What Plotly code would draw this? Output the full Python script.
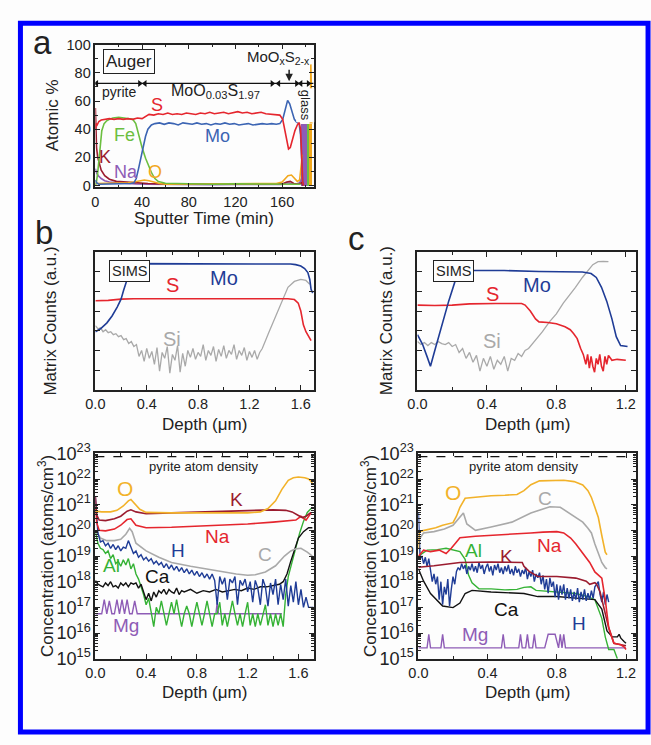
import numpy as np
import plotly.graph_objects as go

W, H = 651, 745
FONT = "Liberation Sans, Arial, sans-serif"
KX, KY = 1.015, 1.04   # measured-pixel -> page-pixel scale

# ---------------- Panel a: Auger (sputter time in min, atomic %) ----------------
S_a_t = [0, 0.6, 1.5, 3, 5, 8, 12, 16, 20, 24, 28, 32, 36, 40, 43, 46, 50, 54, 58, 62, 66, 70, 74, 78, 82, 86, 90, 94, 98, 102,
         106, 110, 114, 118, 122, 126, 130, 134, 138, 142, 146, 150, 154, 158, 160.5, 162.5, 164, 165.5, 167, 169, 171, 173,
         174.5, 175.8, 176.8, 177.6, 178.5]
S_a = [40, 44, 43, 45.5, 46.5, 47, 47.5, 47, 47.5, 47, 47.5, 47, 48, 47.5, 49, 50.5, 50, 51, 50.5, 51.5, 50.5, 51, 50.5, 51.5,
       51, 50.5, 51.5, 51, 52, 51, 51.5, 52, 51, 52, 52.5, 51.5, 52, 51, 51.5, 52, 51, 50.5, 50.5, 50, 47, 38, 30, 26, 27, 33,
       39, 43, 45, 40, 18, 3, 0]
Mo_a_t = [0, 1, 3, 6, 10, 15, 20, 25, 30, 33, 35, 37, 39, 41, 43, 45, 48, 51, 55, 59, 63, 67, 71, 75, 79, 83, 87, 91, 95, 99,
          103, 107, 111, 115, 119, 123, 127, 131, 135, 139, 143, 147, 151, 155, 158, 160.5, 162.5, 164.7, 166.5, 168.5,
          170.5, 172.5, 174.5, 175.8, 176.8, 177.6, 178.5]
Mo_a = [4, 2, 1, 1, 1, 1, 1, 1, 1.5, 2, 5, 12, 20, 28, 35, 40, 43, 44, 44.5, 43.5, 44.5, 44, 43, 44.5, 44, 43.5, 44.5, 43.5,
        44, 43, 44, 43.5, 44.5, 43.5, 44, 43, 43.5, 44, 43, 43.5, 44, 43.5, 44, 43.5, 44, 47, 54, 60.5, 58, 52, 47, 45, 44.5,
        36, 15, 3, 0]
Fe_a_t = [0, 1, 2, 2.8, 4, 5.5, 7.5, 9.7, 12, 15, 20, 25, 30, 32, 34.6, 37.4, 40, 43, 46, 48.5, 51, 54, 60, 80, 100, 120,
          140, 160, 170, 176]
Fe_a = [0, 3, 9, 17, 30, 39, 44, 46, 47, 48, 48.5, 48, 47.5, 47, 44, 35, 27, 19.4, 13, 8.4, 5, 2.9, 1.7, 1.2, 1, 1.2, 1,
        1.2, 1, 1]
K_a_t = [0, 0.4, 1, 2, 3.5, 5, 8, 12, 18, 25, 35, 45, 60, 80, 100, 120, 140, 160, 164, 167, 170, 174, 176.5, 178]
K_a = [55, 38, 27, 20, 15, 11, 7, 4.5, 3, 2.5, 2, 1.5, 1.2, 1, 1.2, 1, 1.2, 1.2, 2.5, 3, 1.5, 1, 2, 0]
Na_a_t = [0, 1, 2.5, 5, 8, 12, 18, 25, 35, 45, 60, 80, 100, 120, 140, 160, 164, 168, 172, 175, 176.5]
Na_a = [12, 9, 7, 5, 3.5, 2.5, 2, 1.5, 1.2, 1, 0.8, 0.8, 0.6, 0.8, 0.6, 0.8, 2, 1.5, 1, 2, 5]
O_a_t = [0, 10, 20, 28, 33, 38, 42, 46, 50, 55, 60, 80, 100, 120, 140, 155, 160, 162.5, 165, 168, 170.5, 173, 175, 176.3, 177.3]
O_a = [1.5, 1.5, 1.5, 2, 2.5, 3.5, 4, 3.5, 2.5, 1.5, 1, 1, 1.2, 1, 1.2, 1.5, 2.5, 5, 7, 7.5, 5.5, 3, 4, 15, 22]
glass_t = [179.4, 182.8, 184.6]
glass_w = [5.4, 1.2, 2.2]
glass_h = [44, 44, 44]
glass_spike_t = [184.2, 184.6, 185.0, 185.4]
glass_spike_v = [44, 86, 70, 44]
region_left = [1, 42.5, 157, 176]
region_right = [38, 151.5, 172.5, 182.5]
region_level = 72.5

# ---------------- Panel b (top): SIMS matrix counts, sample b ----------------
Mo_b_x = [0.0, 0.04, 0.09, 0.13, 0.17, 0.2, 0.22, 0.24, 0.26, 0.28, 0.3, 0.6, 0.9, 1.2, 1.45, 1.52, 1.56, 1.6, 1.63, 1.655,
          1.67, 1.68, 1.69, 1.7]
Mo_b = [2.95, 3.1, 3.4, 3.75, 4.2, 4.6, 5.05, 5.45, 5.9, 6.25, 6.4, 6.4, 6.4, 6.4, 6.4, 6.38, 6.35, 6.28, 6.15, 5.95, 5.6,
        5.1, 4.95, 5.0]
S_b_x = [0.0, 0.1, 0.2, 0.3, 0.6, 1.0, 1.3, 1.5, 1.55, 1.58, 1.6, 1.62, 1.64, 1.66, 1.68]
S_b = [4.52, 4.54, 4.6, 4.62, 4.62, 4.62, 4.62, 4.62, 4.58, 4.4, 4.0, 3.3, 2.95, 2.7, 2.5]
Si_b_noisy = [3.25, 3.1, 3.15, 2.95, 3.05, 2.9, 2.95, 2.8, 2.85, 2.7,
              2.75, 2.55, 2.6, 2.35, 2.45, 2.2, 2.3, 1.7, 2.0, 1.45,
              2.1, 1.6, 1.95, 1.3, 2.15, 0.95, 1.9, 1.6, 2.2, 0.85,
              1.8, 1.5, 2.25, 0.9, 1.85, 1.2, 2.0, 1.65, 2.1, 1.55,
              1.9, 1.7, 2.3, 1.5, 2.0, 1.75, 2.2, 1.45, 2.05, 1.7,
              2.25, 1.6, 2.0, 1.8, 2.3, 1.55, 2.0, 1.75, 2.15, 1.5,
              1.95, 1.65, 2.0, 1.55, 1.9]
Si_b_tail_x = [1.30, 1.35, 1.40, 1.45, 1.50, 1.55, 1.60, 1.64, 1.67]
Si_b_tail = [2.1, 2.9, 3.7, 4.5, 5.2, 5.5, 5.6, 5.55, 5.35]

# ---------------- Panel c (top): SIMS matrix counts, sample c ----------------
Mo_c_x = [0.0, 0.03, 0.055, 0.075, 0.1, 0.14, 0.18, 0.22, 0.25, 0.3, 0.5, 0.7, 0.85, 0.95, 1.0, 1.03, 1.06, 1.09, 1.12,
          1.145, 1.17, 1.2, 1.21]
Mo_c = [2.8, 2.3, 1.7, 1.2, 2.0, 3.3, 4.5, 5.6, 6.05, 6.05, 6.05, 6.0, 6.0, 5.98, 5.9, 5.7, 5.2, 4.5, 3.6, 2.7, 2.25, 2.2, 2.2]
S_c_x = [0.0, 0.1, 0.2, 0.3, 0.45, 0.6, 0.62, 0.65, 0.68, 0.7, 0.75, 0.8, 0.85, 0.88, 0.9, 0.92, 0.94, 0.955, 0.97, 0.98,
         0.99, 1.0, 1.01, 1.02, 1.03, 1.04, 1.05, 1.06, 1.07, 1.08, 1.09, 1.1, 1.12, 1.15, 1.2]
S_c = [4.3, 4.28, 4.3, 4.36, 4.38, 4.38, 4.3, 4.0, 3.6, 3.45, 3.42, 3.35, 3.2, 3.05, 2.85, 2.6, 2.1, 1.8, 1.3, 1.8, 1.1,
       1.7, 1.2, 0.9, 1.6, 1.3, 1.8, 1.2, 0.95, 1.7, 1.3, 1.75, 1.5, 1.55, 1.5]
Si_c_noisy = [2.45, 2.3, 2.4, 2.25, 2.4, 2.3, 2.45, 2.35, 2.3, 2.4,
              2.2, 2.3, 1.9, 2.1, 1.6, 1.9, 1.4, 1.75, 0.95, 1.6,
              1.2, 1.7, 1.05, 1.5, 1.3, 1.7, 0.95, 1.6, 1.5, 1.85,
              1.7, 2.0]
Si_c_tail_x = [0.64, 0.66, 0.69, 0.72, 0.76, 0.80, 0.84, 0.88, 0.91, 0.95, 0.985, 1.01, 1.04, 1.07, 1.1]
Si_c_tail = [2.1, 2.3, 2.6, 2.95, 3.45, 3.85, 4.4, 4.85, 5.2, 5.7, 6.1, 6.35, 6.5, 6.52, 6.5]

# ---------------- Panel b (bottom): concentrations, log10(atoms/cm3) ----------------
pyrite_density = 7.5e22
O_b_x = [0.0, 0.05, 0.12, 0.17, 0.22, 0.26, 0.28, 0.31, 0.35, 0.4, 0.6, 0.9, 1.2, 1.3, 1.36, 1.42, 1.47, 1.52, 1.56, 1.6,
         1.65, 1.68, 1.71]
O_b = [20.75, 20.72, 20.72, 20.78, 20.95, 21.15, 21.2, 21.05, 20.82, 20.7, 20.68, 20.68, 20.68, 20.72, 20.85, 21.15, 21.6,
       21.95, 22.05, 22.08, 22.05, 22.0, 21.85]
K_b_x = [0.0, 0.01, 0.03, 0.08, 0.15, 0.2, 0.25, 0.28, 0.32, 0.4, 0.6, 0.9, 1.2, 1.4, 1.5, 1.55, 1.6, 1.63, 1.66, 1.7]
K_b = [21.3, 20.6, 20.4, 20.38, 20.45, 20.55, 20.75, 20.8, 20.72, 20.65, 20.68, 20.72, 20.78, 20.8, 20.78, 20.72, 20.58,
       20.5, 20.55, 20.7]
Na_b_x = [0.0, 0.01, 0.03, 0.08, 0.15, 0.2, 0.25, 0.28, 0.32, 0.4, 0.6, 0.9, 1.2, 1.4, 1.5, 1.55, 1.58, 1.62, 1.66, 1.7]
Na_b = [20.9, 20.3, 20.0, 19.98, 20.05, 20.2, 20.42, 20.45, 20.2, 20.1, 20.12, 20.18, 20.25, 20.32, 20.35, 20.38, 20.4,
        20.55, 20.4, 20.68]
C_b_x = [0.0, 0.04, 0.09, 0.15, 0.2, 0.24, 0.27, 0.29, 0.32, 0.36, 0.4, 0.5, 0.6, 0.75, 0.86, 1.0, 1.11, 1.2, 1.26, 1.34,
         1.42, 1.49, 1.54, 1.58, 1.62, 1.67, 1.71]
C_b = [20.0, 19.7, 19.6, 19.6, 19.65, 19.85, 20.08, 19.95, 19.5, 19.35, 19.2, 18.95, 18.75, 18.6, 18.5, 18.4, 18.3, 18.25,
       18.27, 18.38, 18.62, 19.0, 19.2, 19.28, 19.3, 19.15, 19.0]
H_b = [21.3, 19.9, 19.55, 19.6, 19.4, 19.5, 19.3, 19.45, 19.25, 19.4,
       19.2, 19.35, 19.3, 19.6, 19.35, 19.1, 19.2, 18.95, 19.05, 18.85,
       18.95, 18.8, 18.9, 18.7, 18.8, 18.65, 18.75, 18.55, 18.7, 18.5,
       18.65, 18.45, 18.6, 18.4, 18.55, 18.35, 18.5, 18.3, 18.45, 18.25,
       18.4, 18.2, 18.35, 18.15, 18.3, 18.1, 18.3, 18.05, 17.1, 18.2,
       17.9, 18.15, 17.3, 18.1, 17.95, 18.2, 17.1, 18.05, 17.85, 18.1,
       17.6, 18.0, 17.2, 18.05, 17.75, 17.1, 18.1, 17.8, 17.05, 17.95,
       17.5, 18.1, 17.1, 17.9, 17.3, 18.1, 17.05, 17.85, 17.2, 18.0,
       17.1, 17.7, 17.0, 17.4, 17.0, 17.0, 17.0]
Al_b_noisy = [19.95, 19.5, 19.3, 19.25, 19.1, 19.2, 18.9, 19.05, 18.7, 18.8,
              18.6, 18.85, 18.65, 18.9, 18.5, 18.7, 18.3, 18.1, 17.8, 17.5,
              17.1, 17.35, 16.8, 16.25, 17.0, 16.75, 17.25, 16.75, 16.3, 16.75,
              17.2, 16.75, 17.3, 16.75, 16.25, 16.75, 17.05, 16.75, 16.25, 16.75,
              17.2, 16.75, 16.3, 16.75, 17.25, 16.75, 16.25, 16.75, 16.75, 17.2,
              16.3, 16.75, 16.25, 16.75, 17.25, 16.75, 16.3, 16.75, 16.25, 16.75,
              17.2, 16.3, 16.75, 16.25, 16.75, 16.3, 16.75, 17.1, 16.3, 16.75,
              16.25, 16.75, 16.3, 16.75, 16.25]
Al_b_tail_x = [1.50, 1.52, 1.55, 1.58, 1.61, 1.64, 1.67, 1.70]
Al_b_tail = [17.5, 18.2, 18.8, 19.3, 19.9, 20.35, 20.7, 20.85]
Ca_b_x = [0.0, 0.02, 0.04, 0.06, 0.08, 0.1, 0.12, 0.14, 0.16, 0.18, 0.2, 0.22, 0.24, 0.26, 0.28, 0.3, 0.32, 0.34, 0.36,
          0.38, 0.4, 0.42, 0.44, 0.46, 0.48, 0.5, 0.52, 0.54, 0.56, 0.58, 0.6, 0.62, 0.64, 0.66, 0.68, 0.7, 0.75, 0.8,
          0.85, 0.9, 0.95, 1.0, 1.05, 1.1, 1.15, 1.2, 1.25, 1.3, 1.35, 1.4, 1.45, 1.48, 1.51, 1.54, 1.57, 1.6, 1.64,
          1.68, 1.71]
Ca_b = [18.05, 17.9, 17.85, 17.8, 17.95, 17.85, 18.0, 17.8, 17.85, 17.75, 17.95, 17.85, 17.95, 17.8, 17.95, 17.9, 17.95,
        17.75, 17.9, 17.6, 17.3, 17.55, 17.25, 17.6, 17.4, 17.65, 17.55, 17.7, 17.5, 17.7, 17.6, 17.55, 17.75, 17.5, 17.65,
        17.6, 17.7, 17.55, 17.65, 17.6, 17.7, 17.6, 17.65, 17.7, 17.65, 17.75, 17.7, 17.8, 17.8, 17.85, 17.9, 18.0, 18.3,
        18.8, 19.3, 19.7, 19.95, 20.1, 20.1]
Mg_b_x = [0.0, 0.05, 0.07, 0.09, 0.11, 0.13, 0.15, 0.17, 0.19, 0.21, 0.23, 0.25, 0.27, 0.29, 0.31, 0.33, 0.35, 0.95, 0.96,
          0.97, 1.47]
Mg_b = [16.75, 16.75, 17.3, 16.75, 17.25, 16.75, 16.75, 17.3, 16.75, 17.3, 16.75, 17.3, 16.75, 16.75, 17.25, 16.75, 16.75,
        16.75, 17.2, 16.75, 16.75]

# ---------------- Panel c (bottom): concentrations, log10(atoms/cm3) ----------------
O_c_x = [0.0, 0.005, 0.02, 0.05, 0.1, 0.14, 0.2, 0.22, 0.24, 0.27, 0.33, 0.42, 0.5, 0.57, 0.61, 0.65, 0.7, 0.76, 0.84, 0.9,
         0.95, 0.98, 1.0, 1.02, 1.04, 1.06, 1.08, 1.09]
O_c = [19.3, 19.95, 19.98, 20.02, 20.1, 20.2, 20.3, 20.55, 20.9, 21.25, 21.3, 21.35, 21.37, 21.4, 21.55, 21.78, 21.93,
       21.95, 21.95, 21.9, 21.77, 21.55, 21.28, 20.9, 20.5, 19.8, 19.15, 19.05]
C_c_x = [0.0, 0.03, 0.09, 0.15, 0.2, 0.24, 0.26, 0.28, 0.33, 0.42, 0.54, 0.65, 0.72, 0.76, 0.82, 0.87, 0.91, 0.95, 0.98,
         1.0, 1.02, 1.04, 1.06, 1.08, 1.09]
C_c = [19.6, 19.9, 19.95, 20.05, 20.2, 20.5, 20.68, 20.25, 20.0, 20.13, 20.32, 20.68, 20.85, 20.92, 20.9, 20.68, 20.5,
       20.32, 20.08, 19.9, 19.47, 19.1, 18.75, 18.55, 18.5]
Na_c_x = [0.0, 0.03, 0.07, 0.12, 0.16, 0.19, 0.22, 0.24, 0.33, 0.52, 0.65, 0.72, 0.8, 0.84, 0.88, 0.91, 0.95, 0.99, 1.02,
          1.05, 1.06, 1.08, 1.1, 1.13, 1.17, 1.19, 1.2]
Na_c = [18.99, 19.23, 19.17, 19.23, 19.1, 19.3, 19.55, 19.71, 19.77, 19.83, 19.9, 19.93, 19.95, 19.9, 19.7, 19.47, 19.1,
        18.75, 18.38, 18.2, 18.14, 17.3, 16.2, 15.6, 15.54, 15.45, 15.36]
K_c_x = [0.0, 0.09, 0.24, 0.42, 0.6, 0.61, 0.64, 0.69, 0.8, 0.91, 0.97, 0.99, 1.02, 1.03, 1.05, 1.07, 1.1, 1.13, 1.17, 1.2]
K_c = [18.56, 18.62, 18.75, 18.77, 18.75, 18.6, 18.4, 18.2, 18.2, 18.14, 18.02, 17.9, 17.96, 17.9, 17.6, 17.05, 16.2, 15.6,
       15.55, 15.5]
Al_c_x = [0.0, 0.05, 0.11, 0.16, 0.24, 0.27, 0.29, 0.31, 0.35, 0.42, 0.5, 0.57, 0.61, 0.65, 0.68, 0.8, 0.91, 0.98, 1.02,
          1.06, 1.08, 1.1, 1.13, 1.15]
Al_c = [18.99, 19.23, 19.25, 19.3, 19.17, 18.87, 18.26, 17.96, 17.72, 17.72, 17.68, 17.7, 17.78, 17.8, 17.66, 17.6, 17.54,
        17.42, 17.3, 16.57, 15.85, 15.36, 15.36, 15.0]
Ca_c_x = [0.0, 0.03, 0.07, 0.11, 0.14, 0.2, 0.24, 0.27, 0.31, 0.42, 0.61, 0.69, 0.8, 0.91, 1.02, 1.06, 1.09, 1.12, 1.15,
          1.16, 1.17, 1.19, 1.2]
Ca_c = [18.5, 18.02, 17.54, 17.24, 17.05, 16.99, 17.17, 17.54, 17.66, 17.6, 17.54, 17.42, 17.42, 17.36, 17.3, 16.93,
        16.08, 15.85, 15.85, 15.95, 15.8, 15.66, 15.6]
H_c = [20.7, 18.9, 19.0, 18.7, 18.95, 18.6, 18.9, 18.4, 18.0, 18.3,
       17.9, 18.2, 17.3, 18.0, 17.1, 17.8, 17.5, 18.1, 17.05, 17.7,
       18.2, 17.9, 18.4, 18.55, 18.45, 18.7, 18.5, 18.65, 18.3, 18.6,
       18.45, 18.7, 18.4, 18.6, 18.35, 18.75, 18.5, 18.65, 18.3, 18.55,
       18.7, 18.4, 18.6, 18.25, 18.65, 18.45, 18.7, 18.35, 18.55, 18.3,
       18.6, 18.4, 18.65, 18.3, 18.5, 18.25, 18.6, 18.35, 18.5, 18.2,
       18.45, 18.3, 18.55, 18.1, 18.4, 18.2, 18.45, 18.0, 18.3, 18.15,
       18.35, 17.9, 18.25, 17.7, 18.1, 17.55, 18.15, 17.8, 18.0, 17.4,
       17.9, 17.3, 17.85, 17.5, 17.9, 17.3, 17.75, 17.35, 17.7, 17.25,
       17.6, 17.3, 17.75, 17.2, 17.6, 17.3, 17.7, 17.25, 17.55, 17.3,
       17.65, 17.35, 17.8, 17.9, 18.0, 17.5, 17.2, 17.6, 17.1, 17.5,
       17.2]
Mg_c_x = [0.0, 0.05, 0.06, 0.07, 0.13, 0.14, 0.15, 0.48, 0.49, 0.5, 0.58, 0.59, 0.6, 0.62, 0.63, 0.64, 0.66, 0.67, 0.68,
          0.73, 0.75, 0.79, 0.81, 0.82, 0.83, 0.84, 0.85, 0.86, 1.2]
Mg_c = [15.42, 15.42, 15.95, 15.42, 15.42, 15.95, 15.42, 15.42, 15.95, 15.42, 15.42, 15.95, 15.42, 15.42, 15.95, 15.42,
        15.42, 15.95, 15.42, 15.42, 15.95, 15.95, 15.42, 15.95, 15.42, 15.95, 15.42, 15.42, 15.42]

# ---------------- colours ----------------
RED = "#e5262e"
BLUE_A = "#3b64b3"
NAVY = "#1f3c96"
GREEN_A = "#6cbf40"
DKRED = "#9b1c2f"
PURPLE = "#8e5cb6"
ORANGE = "#f2a81d"
YELLOW = "#f2b22a"
GRAY = "#a9a9a9"
GREEN = "#35b235"
BLACK = "#111111"
AX = "#222222"
BG = "#fdfdfd"

fig = go.Figure()


def add(x, y, ax, color, width=1.6):
    fig.add_trace(go.Scatter(x=list(x), y=list(y), xaxis="x" + ax, yaxis="y" + ax, mode="lines",
                             line=dict(color=color, width=width), showlegend=False, hoverinfo="skip"))


def logv(v):
    return 10 ** np.array(v, dtype=float)


# panel a traces
fig.add_trace(go.Bar(x=glass_t, y=glass_h, width=glass_w, marker=dict(color=[PURPLE, GREEN_A, ORANGE], line=dict(width=0)),
                     xaxis="x", yaxis="y", showlegend=False, hoverinfo="skip"))
add(Na_a_t, Na_a, "", PURPLE)
add(K_a_t, K_a, "", DKRED)
add(O_a_t, O_a, "", ORANGE)
add(Fe_a_t, Fe_a, "", GREEN_A)
add(Mo_a_t, Mo_a, "", BLUE_A)
add(S_a_t, S_a, "", RED)
add(glass_spike_t, glass_spike_v, "", ORANGE)
add([0, 187], [region_level, region_level], "", BLACK, 1.2)
fig.add_trace(go.Scatter(x=region_left, y=[region_level] * len(region_left), mode="markers", xaxis="x", yaxis="y",
                         marker=dict(symbol="triangle-left", size=6, color=BLACK), showlegend=False, hoverinfo="skip"))
fig.add_trace(go.Scatter(x=region_right, y=[region_level] * len(region_right), mode="markers", xaxis="x", yaxis="y",
                         marker=dict(symbol="triangle-right", size=6, color=BLACK), showlegend=False, hoverinfo="skip"))

# panel b top
grid_b = np.round(np.arange(len(Si_b_noisy)) * 0.02, 3)
add(list(grid_b) + Si_b_tail_x, Si_b_noisy + Si_b_tail, "2", GRAY, 1.3)
add(S_b_x, S_b, "2", RED)
add(Mo_b_x, Mo_b, "2", NAVY)

# panel c top
grid_c = np.round(np.arange(len(Si_c_noisy)) * 0.02, 3)
add(list(grid_c) + Si_c_tail_x, Si_c_noisy + Si_c_tail, "3", GRAY, 1.3)
add(S_c_x, S_c, "3", RED)
add(Mo_c_x, Mo_c, "3", NAVY)

# panel b bottom
add([0, 1.72], [pyrite_density, pyrite_density], "4", BLACK, 1.4)
fig.data[-1].line.dash = "dash"
add(Mg_b_x, logv(Mg_b), "4", PURPLE, 1.4)
grid_al = np.round(np.arange(len(Al_b_noisy)) * 0.02, 3)
add(list(grid_al) + Al_b_tail_x, logv(Al_b_noisy + Al_b_tail), "4", GREEN, 1.4)
add(Ca_b_x, logv(Ca_b), "4", BLACK, 1.4)
add(C_b_x, logv(C_b), "4", GRAY, 1.6)
grid_h = np.round(np.arange(len(H_b)) * 0.02, 3)
add(grid_h, logv(H_b), "4", NAVY, 1.4)
add(Na_b_x, logv(Na_b), "4", RED)
add(K_b_x, logv(K_b), "4", DKRED)
add(O_b_x, logv(O_b), "4", YELLOW)

# panel c bottom
add([0, 1.25], [pyrite_density, pyrite_density], "5", BLACK, 1.4)
fig.data[-1].line.dash = "dash"
add(Mg_c_x, logv(Mg_c), "5", PURPLE, 1.4)
add(Al_c_x, logv(Al_c), "5", GREEN, 1.4)
add(Ca_c_x, logv(Ca_c), "5", BLACK, 1.4)
grid_hc = np.round(np.arange(len(H_c)) * 0.01, 3)
add(grid_hc, logv(H_c), "5", NAVY, 1.4)
add(K_c_x, logv(K_c), "5", DKRED)
add(Na_c_x, logv(Na_c), "5", RED)
add(C_c_x, logv(C_c), "5", GRAY)
add(O_c_x, logv(O_c), "5", YELLOW)


# ---------------- layout ----------------
def dx(a, b):
    return [a / KX / W, b / KX / W]


def dy(top, bot):
    return [1 - bot / KY / H, 1 - top / KY / H]


base = dict(showline=True, linecolor=AX, linewidth=1.5, mirror="ticks", ticks="inside", ticklen=5, tickwidth=1.2,
            tickcolor=AX, showgrid=False, zeroline=False, tickfont=dict(size=14.5, color=AX, family=FONT),
            fixedrange=True)
minor_lin = lambda d: dict(ticks="inside", ticklen=3, tickcolor=AX, dtick=d, showgrid=False)
minor_log = dict(ticks="inside", ticklen=3, tickcolor=AX, dtick="D1", showgrid=False)

layout = dict(
    width=W, height=H, margin=dict(l=0, r=0, t=0, b=0), paper_bgcolor=BG, plot_bgcolor=BG,
    barmode="overlay", bargap=0, font=dict(family=FONT, color=AX),
    xaxis=dict(base, domain=dx(88, 313), range=[0, 187], tickmode="linear", tick0=0, dtick=40, minor=minor_lin(20),
               anchor="y"),
    yaxis=dict(base, domain=dy(35, 188), range=[-1.3, 100], tickmode="linear", tick0=0, dtick=20, minor=minor_lin(10),
               anchor="x"),
    xaxis2=dict(base, domain=dx(88, 313), range=[0, 1.70], tickmode="linear", tick0=0, dtick=0.4, tickformat=".1f",
                minor=minor_lin(0.2), anchor="y2"),
    yaxis2=dict(base, domain=dy(257, 405), range=[0, 7], tickmode="linear", tick0=0, dtick=1, showticklabels=False,
                anchor="x2"),
    xaxis3=dict(base, domain=dx(420, 645), range=[0, 1.257], tickmode="linear", tick0=0, dtick=0.4, tickformat=".1f",
                minor=minor_lin(0.2), anchor="y3"),
    yaxis3=dict(base, domain=dy(257, 405), range=[0, 7], tickmode="linear", tick0=0, dtick=1, showticklabels=False,
                anchor="x3"),
    xaxis4=dict(base, domain=dx(88, 313), range=[0, 1.72], tickmode="linear", tick0=0, dtick=0.4, tickformat=".1f",
                minor=minor_lin(0.2), anchor="y4"),
    yaxis4=dict(base, domain=dy(473, 693), type="log", range=[15, 23], tickmode="linear", dtick=1,
                exponentformat="power", minor=minor_log, anchor="x4"),
    xaxis5=dict(base, domain=dx(421, 645), range=[0, 1.256], tickmode="linear", tick0=0, dtick=0.4, tickformat=".1f",
                minor=minor_lin(0.2), anchor="y5"),
    yaxis5=dict(base, domain=dy(473, 693), type="log", range=[15, 23], tickmode="linear", dtick=1,
                exponentformat="power", minor=minor_log, anchor="x5"),
)
fig.update_layout(**layout)

ann = []


def txt(x, y, text, ref, size, color=AX, **kw):
    d = dict(x=x, y=y, text=text, showarrow=False, font=dict(size=size, color=color, family=FONT),
             xref="x" + ref, yref="y" + ref, xanchor="center", yanchor="middle")
    d.update(kw)
    ann.append(d)


def ptxt(px, py, text, size, angle=0):
    ann.append(dict(x=px / KX / W, y=1 - py / KY / H, xref="paper", yref="paper", text=text, showarrow=False,
                    font=dict(size=size, color=AX, family=FONT), textangle=angle, xanchor="center", yanchor="middle"))


# panel letters
ptxt(33, 33, "a", 33)
ptxt(35, 236, "b", 33)
ptxt(357, 243, "c", 33)

# axis titles
ptxt(44, 111, "Atomic %", 17, -90)
ptxt(200, 221, "Sputter Time (min)", 17)
ptxt(42, 331, "Matrix Counts (a.u.)", 17, -90)
ptxt(389, 331, "Matrix Counts (a.u.)", 17, -90)
ptxt(200, 442, "Depth (\u03bcm)", 17)
ptxt(533, 442, "Depth (\u03bcm)", 17)
ptxt(37, 583, "Concentration (atoms/cm<sup>3</sup>)", 17, -90)
ptxt(370, 583, "Concentration (atoms/cm<sup>3</sup>)", 17, -90)
ptxt(200, 729, "Depth (\u03bcm)", 17)
ptxt(533, 729, "Depth (\u03bcm)", 17)

# panel a labels
txt(29, 88, "Auger", "", 17, bordercolor=AX, borderwidth=1, borderpad=2, bgcolor=BG)
txt(20, 66.5, "pyrite", "", 14)
txt(103, 66.5, "MoO<sub>0.03</sub>S<sub>1.97</sub>", "", 16)
txt(157, 91, "MoO<sub>x</sub>S<sub>2-x</sub>", "", 15)
txt(180, 57, "glass", "", 13, textangle=90, bgcolor=BG)
txt(53, 57, "S", "", 18, RED)
txt(25, 36, "Fe", "", 18, GREEN_A)
txt(105, 35, "Mo", "", 18, BLUE_A)
txt(8, 20.5, "K", "", 18, DKRED)
txt(26.5, 9.3, "Na", "", 18, PURPLE)
txt(51, 9.3, "O", "", 18, ORANGE)
ann.append(dict(x=166, y=region_level + 1.5, xref="x", yref="y", ax=0, ay=-13, showarrow=True, arrowhead=2,
                arrowsize=1, arrowwidth=1.5, arrowcolor=AX, text=""))

# panel b top labels
txt(0.264, 6.05, "SIMS", "2", 14.5, bordercolor=AX, borderwidth=1, borderpad=2, bgcolor=BG)
txt(1.0, 5.68, "Mo", "2", 20, NAVY)
txt(0.60, 5.3, "S", "2", 20, RED)
txt(0.60, 2.6, "Si", "2", 20, GRAY)

# panel c top labels
txt(0.21, 6.05, "SIMS", "3", 14.5, bordercolor=AX, borderwidth=1, borderpad=2, bgcolor=BG)
txt(0.69, 5.3, "Mo", "3", 20, NAVY)
txt(0.43, 4.87, "S", "3", 20, RED)
txt(0.43, 2.5, "Si", "3", 20, GRAY)

# panel b bottom labels (y in log10 units)
txt(0.856, 22.49, "pyrite atom density", "4", 13)
txt(0.23, 21.65, "O", "4", 21, YELLOW)
txt(1.11, 21.22, "K", "4", 19, DKRED)
txt(0.96, 19.76, "Na", "4", 19, RED)
txt(0.65, 19.22, "H", "4", 19, NAVY)
txt(1.34, 19.04, "C", "4", 19, GRAY)
txt(0.13, 18.64, "Al", "4", 19, GREEN)
txt(0.49, 18.2, "Ca", "4", 19, BLACK)
txt(0.245, 16.31, "Mg", "4", 19, PURPLE)

# panel c bottom labels
txt(0.61, 22.49, "pyrite atom density", "5", 13)
txt(0.20, 21.47, "O", "5", 21, YELLOW)
txt(0.73, 21.23, "C", "5", 19, GRAY)
txt(0.76, 19.41, "Na", "5", 19, RED)
txt(0.32, 19.23, "Al", "5", 19, GREEN)
txt(0.51, 18.99, "K", "5", 19, DKRED)
txt(0.51, 16.93, "Ca", "5", 19, BLACK)
txt(0.93, 16.38, "H", "5", 19, NAVY)
txt(0.33, 15.96, "Mg", "5", 19, PURPLE)

fig.update_layout(annotations=ann)

# blue frame around the figure
fig.add_shape(type="rect", xref="paper", yref="paper", x0=10.6 / W, y0=1 - 742 / H, x1=648 / W, y1=1 - 11.7 / H,
              line=dict(color="#0000ff", width=5))

fig.write_html("out.html")
